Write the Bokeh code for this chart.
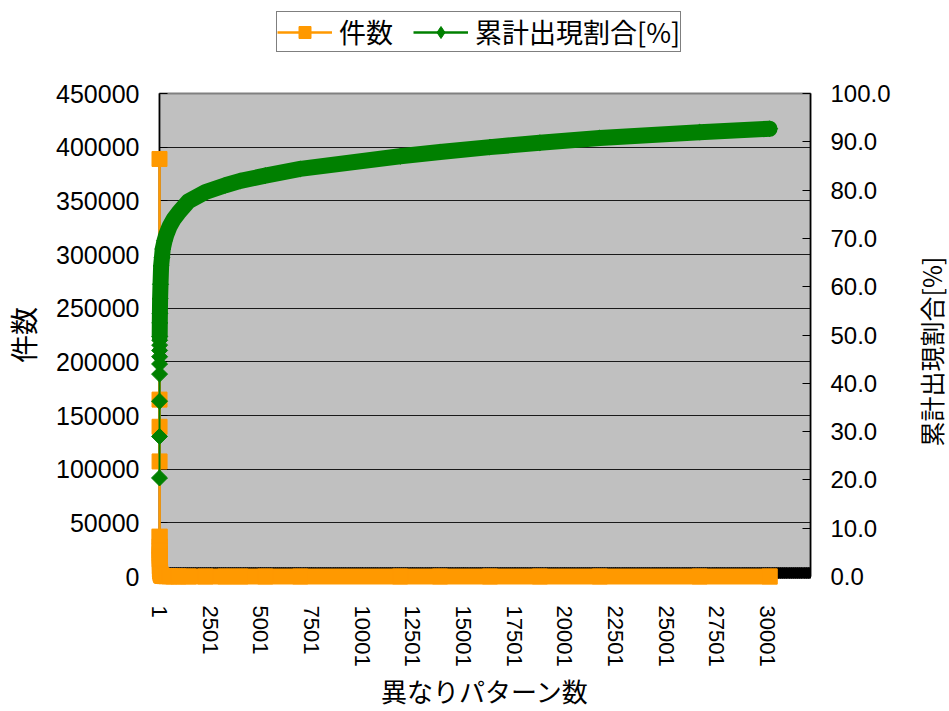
import numpy as np
from bokeh.plotting import figure
from bokeh.layouts import column, row
from bokeh.models import (Range1d, LinearAxis, FixedTicker, NumeralTickFormatter,
                          Legend, LegendItem, ColumnDataSource, Label)
from bokeh.embed import file_html
from bokeh.resources import INLINE

# ---- data ----
pattern_no = [1, 2, 3, 4, 5, 6, 7, 8, 9, 10, 15, 20, 30, 50, 80, 120, 160, 250, 340,
              500, 700, 936, 1430, 2270, 3250, 3990, 5220, 6946, 11872, 13842, 16305,
              18768, 21724, 26650, 30100]
counts = [389000, 164800, 139500, 107200, 37000, 28000, 24000, 21000, 19000, 16000,
          9500, 6500, 4500, 2500, 1200, 700, 500, 350, 250, 170, 120, 90, 55, 40,
          20, 15, 12, 9, 7, 6, 5, 5, 4, 3, 1]
cum_pct = [20.4, 29.0, 36.3, 41.9, 44.0, 45.5, 46.8, 47.9, 48.9, 49.7, 52.5, 54.5,
           57.5, 60.5, 64.3, 66.0, 67.8, 69.5, 70.8, 72.5, 74.0, 75.3, 77.7, 79.6,
           81.0, 81.9, 83.0, 84.4, 87.0, 87.9, 88.9, 89.8, 90.8, 92.0, 92.7]
axis_categories = 32120
x_tick_values = [1, 2501, 5001, 7501, 10001, 12501, 15001, 17501, 20001, 22501,
                 25001, 27501, 30001]
left_ticks = [0, 50000, 100000, 150000, 200000, 250000, 300000, 350000, 400000, 450000]
right_ticks = [0, 10, 20, 30, 40, 50, 60, 70, 80, 90, 100]
series_names = ["件数", "累計出現割合[%]"]

ORANGE = "#FF9900"
GREEN = "#008000"
NUM_FONT = "Liberation Sans"
CJK_FONT = "Noto Sans CJK JP"

src = ColumnDataSource(dict(x=pattern_no, cnt=counts, pct=cum_pct))
src_orange_tail = ColumnDataSource(dict(x=pattern_no[4:], cnt=counts[4:]))
src_green_tail = ColumnDataSource(dict(x=pattern_no[9:], pct=cum_pct[9:]))

MAIN_W = 893

# ---------------- main chart ----------------
p = figure(width=MAIN_W, height=641, output_backend="svg", toolbar_location=None,
           x_range=Range1d(0.5, axis_categories + 0.5),
           y_range=Range1d(left_ticks[0], left_ticks[-1]),
           min_border_left=158, min_border_right=MAIN_W - 811, min_border_top=23,
           min_border_bottom=131,
           background_fill_color="#C0C0C0", border_fill_color="white")
p.extra_y_ranges = {"pct": Range1d(right_ticks[0], right_ticks[-1])}
p.outline_line_color = "#808080"
p.outline_line_width = 2

# orange series (件数)
p.line("x", "cnt", source=src_orange_tail, color=ORANGE, line_width=16,
       line_cap="square", line_join="miter", level="annotation")
p.line("x", "cnt", source=src, color=ORANGE, line_width=2.5, level="annotation")
p.scatter("x", "cnt", source=src, marker="square", size=15, color=ORANGE,
          level="annotation")

# green series (累計出現割合)
p.line("x", "pct", source=src_green_tail, color=GREEN, line_width=16,
       line_cap="round", line_join="round", y_range_name="pct", level="overlay")
p.line("x", "pct", source=src, color=GREEN, line_width=2, y_range_name="pct",
       level="overlay")
p.scatter("x", "pct", source=src, marker="square", angle=np.pi / 4, size=11.3,
          color=GREEN, y_range_name="pct", level="overlay")

xa = p.xaxis[0]
minor = list(range(1, axis_categories + 1, 20))
xa.ticker = FixedTicker(ticks=x_tick_values, minor_ticks=minor)
xa.major_label_orientation = "vertical"
xa.major_tick_in = 9
xa.major_tick_out = 2
xa.minor_tick_in = 9
xa.minor_tick_out = 2
xa.major_tick_line_color = "black"
xa.minor_tick_line_color = "black"
xa.axis_line_color = "black"
xa.major_label_text_font = NUM_FONT
xa.major_label_text_font_size = "22px"
xa.major_label_text_color = "black"
xa.major_label_standoff = 27
xa.axis_label = "異なりパターン数"
xa.axis_label_text_font = CJK_FONT
xa.axis_label_text_font_size = "26px"
xa.axis_label_text_font_style = "normal"
xa.axis_label_text_color = "black"
xa.axis_label_standoff = 2

ya = p.yaxis[0]
ya.ticker = FixedTicker(ticks=left_ticks)
ya.formatter = NumeralTickFormatter(format="0")
ya.major_tick_in = 8
ya.major_tick_out = 0
ya.minor_tick_line_color = None
ya.axis_line_color = "black"
ya.axis_line_width = 1.5
ya.major_label_text_font = NUM_FONT
ya.major_label_text_font_size = "25px"
ya.major_label_text_color = "black"
ya.major_label_standoff = 20
ya.axis_label = series_names[0]
ya.axis_label_text_font = CJK_FONT
ya.axis_label_text_font_size = "28px"
ya.axis_label_text_font_style = "normal"
ya.axis_label_text_color = "black"
ya.axis_label_standoff = 10

ra = LinearAxis(y_range_name="pct", ticker=FixedTicker(ticks=right_ticks),
                formatter=NumeralTickFormatter(format="0.0"))
ra.major_tick_in = 8
ra.major_tick_out = 0
ra.minor_tick_line_color = None
ra.axis_line_color = "black"
ra.axis_line_width = 1.5
ra.major_label_text_font = NUM_FONT
ra.major_label_text_font_size = "24px"
ra.major_label_text_color = "black"
ra.major_label_standoff = 20
p.add_layout(ra, "right")

p.xgrid.visible = False
p.ygrid.grid_line_color = "#1a1a1a"
p.ygrid.grid_line_width = 1

# ---------------- legend strip (above) ----------------
# the same series are drawn here outside the visible range, only to feed the legend
lf = figure(width=MAIN_W, height=70, output_backend="svg", toolbar_location=None,
            x_range=Range1d(-3, -2), y_range=Range1d(0, 1),
            x_axis_type=None, y_axis_type=None, min_border=0,
            outline_line_color=None, background_fill_color="white",
            border_fill_color="white")
lo_line = lf.line("x", "cnt", source=src, color=ORANGE, line_width=2.5)
lo_mark = lf.scatter("x", "cnt", source=src, marker="square", size=15, color=ORANGE)
lg_line = lf.line("x", "pct", source=src, color=GREEN, line_width=2.5)
lg_mark = lf.scatter("x", "pct", source=src, marker="diamond", size=16, color=GREEN)
legend = Legend(items=[LegendItem(label=series_names[0], renderers=[lo_line, lo_mark]),
                       LegendItem(label=series_names[1], renderers=[lg_line, lg_mark])],
                orientation="horizontal", location=(117, 18))
legend.label_text_font = CJK_FONT
legend.label_text_font_size = "27px"
legend.label_text_color = "black"
legend.glyph_width = 55
legend.glyph_height = 30
legend.label_standoff = 7
legend.spacing = 20
legend.padding = 0
legend.margin = 0
legend.border_line_color = "black"
legend.border_line_width = 1
legend.background_fill_color = "white"
legend.background_fill_alpha = 1
lf.add_layout(legend)

# ---------------- right axis title strip ----------------
tf = figure(width=949 - MAIN_W, height=711, output_backend="svg", toolbar_location=None,
            x_range=Range1d(0, 1), y_range=Range1d(0, 1),
            x_axis_type=None, y_axis_type=None, min_border=0,
            outline_line_color=None, background_fill_color="white",
            border_fill_color="white")
tf.add_layout(Label(x=37, y=360, x_units="screen", y_units="screen",
                    text=series_names[1], angle=np.pi / 2, text_align="center",
                    text_baseline="middle", text_font=CJK_FONT,
                    text_font_size="25px", text_color="black"))

layout = row(column(lf, p, spacing=0), tf, spacing=0)
open("out.html", "w").write(file_html(layout, INLINE))
